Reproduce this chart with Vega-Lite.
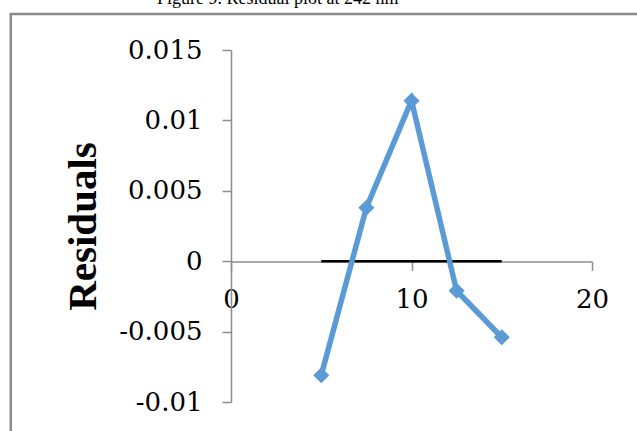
{
  "$schema": "https://vega.github.io/schema/vega-lite/v6.json",
  "autosize": "none",
  "width": 361,
  "height": 352,
  "padding": {"left": 231, "top": 50, "right": 45, "bottom": 29},
  "background": "white",
  "config": {"view": {"stroke": null}},
  "title": {
    "text": "Figure 9. Residual plot at 242 nm",
    "anchor": "start",
    "frame": "group",
    "dx": -74,
    "dy": 13,
    "baseline": "alphabetic",
    "font": "Liberation Serif",
    "fontSize": 18,
    "fontWeight": "normal",
    "color": "#000000"
  },
  "datasets": {
    "points": [
      {"conc": 5, "residual": -0.0081, "series": "Residuals"},
      {"conc": 7.5, "residual": 0.0038, "series": "Residuals"},
      {"conc": 10, "residual": 0.0114, "series": "Residuals"},
      {"conc": 12.5, "residual": -0.0021, "series": "Residuals"},
      {"conc": 15, "residual": -0.0054, "series": "Residuals"},
      {"conc": 5, "residual": 0, "series": "Zero"},
      {"conc": 15, "residual": 0, "series": "Zero"}
    ],
    "frame": [
      {"x1": -12.2, "x2": 30, "y1": 0.01755, "y2": -0.02}
    ]
  },
  "layer": [
    {
      "data": {"name": "frame"},
      "mark": {"type": "rect", "filled": false, "stroke": "#8c8c8c", "strokeWidth": 2.5, "clip": false},
      "encoding": {
        "x": {"field": "x1", "type": "quantitative"},
        "x2": {"field": "x2"},
        "y": {"field": "y1", "type": "quantitative"},
        "y2": {"field": "y2"}
      }
    },
    {
      "data": {"name": "points"},
      "transform": [{"filter": "datum.series == 'Zero'"}],
      "mark": {"type": "line", "color": "#000000", "strokeWidth": 2.5},
      "encoding": {
        "x": {"field": "conc", "type": "quantitative"},
        "y": {"field": "residual", "type": "quantitative"}
      }
    },
    {
      "data": {"name": "points"},
      "transform": [{"filter": "datum.series == 'Residuals'"}],
      "mark": {"type": "line", "color": "#5b9bd5", "strokeWidth": 5.5, "point": {"shape": "diamond", "size": 260, "color": "#5b9bd5", "filled": true, "opacity": 1}},
      "encoding": {
        "x": {
          "field": "conc", "type": "quantitative",
          "scale": {"domain": [0, 20], "nice": false, "zero": false},
          "axis": {
            "title": null,
            "values": [0, 10, 20],
            "offset": -140.5,
            "grid": false,
            "domainColor": "#8c8c8c",
            "domainWidth": 1.5,
            "tickColor": "#8c8c8c",
            "tickWidth": 1.5,
            "tickSize": 9,
            "labelFont": "DejaVu Serif",
            "labelFontSize": 26,
            "labelColor": "#000000",
            "labelPadding": 16,
            "labelFlush": false,
            "labelOverlap": false
          }
        },
        "y": {
          "field": "residual", "type": "quantitative",
          "scale": {"domain": [-0.01, 0.015], "nice": false, "zero": false},
          "axis": {
            "title": "Residuals",
            "titleFont": "Liberation Serif",
            "titleFontSize": 41,
            "titleFontWeight": "bold",
            "titleColor": "#000000",
            "titlePadding": 14,
            "values": [-0.01, -0.005, 0, 0.005, 0.01, 0.015],
            "labelExpr": "replace(format(datum.value, '.3~f'), '\u2212', '-')",
            "grid": false,
            "domainColor": "#8c8c8c",
            "domainWidth": 1.5,
            "tickColor": "#8c8c8c",
            "tickWidth": 1.5,
            "tickSize": 9,
            "labelFont": "DejaVu Serif",
            "labelFontSize": 26,
            "labelColor": "#000000",
            "labelPadding": 20,
            "labelFlush": false,
            "labelOverlap": false
          }
        }
      }
    }
  ]
}
